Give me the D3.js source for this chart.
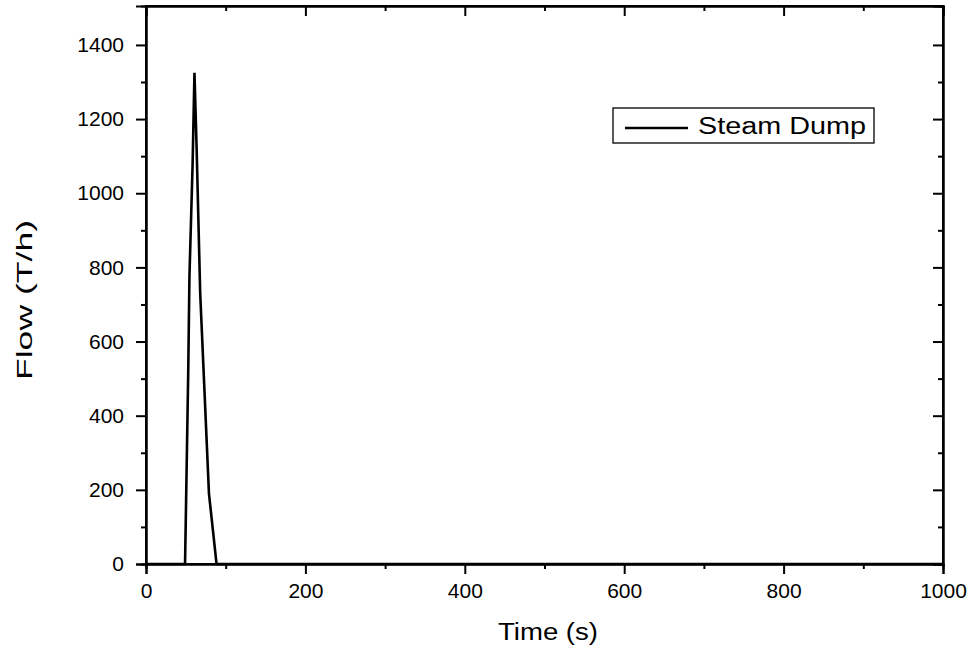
<!DOCTYPE html>
<html><head><meta charset="utf-8">
<script src="https://cdn.jsdelivr.net/npm/d3@7"></script>
<style>body{margin:0;background:#fff;}svg{display:block;font-family:"Liberation Sans",Arial,sans-serif;}</style>
</head><body>
<script>
const times = [0, 49, 53, 54.5, 58.5, 60.8, 63.6, 68, 79, 88.5, 1000];
const flows = [0, 0, 520, 775, 1080, 1325, 1115, 730, 190, 0, 0];
const xTicks = [0, 200, 400, 600, 800, 1000];
const yTicks = [0, 200, 400, 600, 800, 1000, 1200, 1400];
const seriesName = "Steam Dump";

const W = 979, H = 654;
const m = {l:146, r:36, t:6, b:90};
const svg = d3.select("body").append("svg").attr("width", W).attr("height", H);
const x = d3.scaleLinear().domain([0, 1000]).range([m.l, W - m.r]);
const y = d3.scaleLinear().domain([0, 1505]).range([H - m.b, m.t]);
const x0 = m.l, x1 = W - m.r, y0 = H - m.b, y1 = m.t;
const xMinor = d3.range(100, 1000, 200);
const yMinor = d3.range(100, 1500, 200);

// frame
svg.append("rect").attr("x", x0).attr("y", y1).attr("width", x1 - x0).attr("height", y0 - y1)
  .attr("fill", "none").attr("stroke", "#000").attr("stroke-width", 2);

// bottom axis
const bx = svg.append("g").attr("transform", `translate(0,${y0})`)
  .call(d3.axisBottom(x).tickValues(xTicks).tickSize(10).tickPadding(9).tickFormat(d3.format("d")));
bx.append("g").call(d3.axisBottom(x).tickValues(xMinor).tickSize(5).tickFormat(""));
// top axis (inward)
svg.append("g").attr("transform", `translate(0,${y1})`)
  .call(d3.axisBottom(x).tickValues(xTicks).tickSize(10).tickFormat(""))
  .call(g => g.append("g").call(d3.axisBottom(x).tickValues(xMinor).tickSize(5).tickFormat("")));
// left axis
const ly = svg.append("g").attr("transform", `translate(${x0},0)`)
  .call(d3.axisLeft(y).tickValues(yTicks).tickSize(10).tickPadding(12).tickFormat(d3.format("d")));
ly.append("g").call(d3.axisLeft(y).tickValues(yMinor).tickSize(5).tickFormat(""));
// right axis (inward)
svg.append("g").attr("transform", `translate(${x1},0)`)
  .call(d3.axisLeft(y).tickValues(yTicks).tickSize(10).tickFormat(""))
  .call(g => g.append("g").call(d3.axisLeft(y).tickValues(yMinor).tickSize(5).tickFormat("")));

svg.selectAll(".domain").attr("stroke", "#000").attr("stroke-width", 2);
svg.selectAll(".tick line").attr("stroke", "#000").attr("stroke-width", 2);
svg.selectAll(".tick text").attr("font-size", 21).attr("fill", "#000")
  .attr("font-family", "'Liberation Sans',Arial,sans-serif");

// line
const line = d3.line().x((d, i) => x(times[i])).y(d => y(d));
svg.append("path").datum(flows).attr("d", line).attr("fill", "none")
  .attr("stroke", "#000").attr("stroke-width", 2.6).attr("stroke-linejoin", "miter");

// axis titles
svg.append("text").attr("x", 548).attr("y", 640).attr("text-anchor", "middle")
  .attr("font-size", 23).attr("textLength", 100).attr("lengthAdjust", "spacingAndGlyphs").text("Time (s)");
svg.append("text").attr("transform", `translate(32,300) rotate(-90)`)
  .attr("text-anchor", "middle").attr("font-size", 22)
  .attr("textLength", 160).attr("lengthAdjust", "spacingAndGlyphs").text("Flow (T/h)");

// legend
const lg = svg.append("g");
lg.append("rect").attr("x", 613).attr("y", 108).attr("width", 261).attr("height", 35)
  .attr("fill", "#fff").attr("stroke", "#000").attr("stroke-width", 1.3);
lg.append("line").attr("x1", 625).attr("x2", 688).attr("y1", 128).attr("y2", 128)
  .attr("stroke", "#000").attr("stroke-width", 2.6);
lg.append("text").attr("x", 698).attr("y", 134).attr("font-size", 23)
  .attr("textLength", 168).attr("lengthAdjust", "spacingAndGlyphs").text(seriesName);
</script>
</body></html>
